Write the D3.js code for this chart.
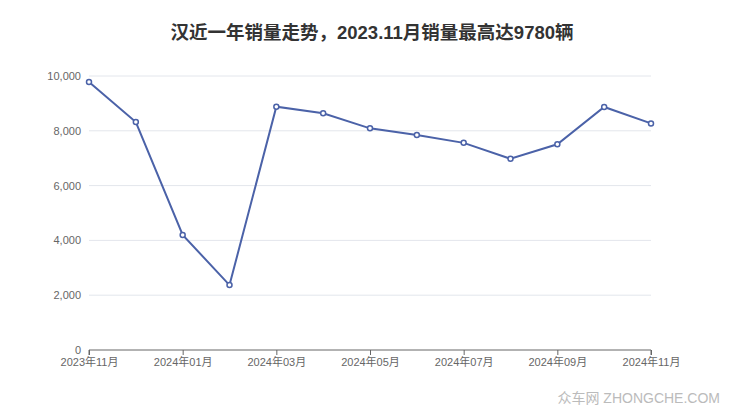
<!DOCTYPE html>
<html><head><meta charset="utf-8">
<script src="https://cdn.jsdelivr.net/npm/d3@7"></script>
<style>body{margin:0;background:#fff;}svg{display:block;font-family:"Liberation Sans","Noto Sans CJK SC",sans-serif;}</style>
</head><body>
<svg id="c" width="740" height="417"></svg>
<script>
const months = ["2023年11月","2023年12月","2024年01月","2024年02月","2024年03月","2024年04月","2024年05月","2024年06月","2024年07月","2024年08月","2024年09月","2024年10月","2024年11月"];
const sales = [9780, 8320, 4200, 2370, 8880, 8640, 8090, 7850, 7560, 6980, 7510, 8870, 8270];
const yTicks = [0, 2000, 4000, 6000, 8000, 10000];
const xTickLabels = ["2023年11月","2024年01月","2024年03月","2024年05月","2024年07月","2024年09月","2024年11月"];
const title = "汉近一年销量走势，2023.11月销量最高达9780辆";

const svg = d3.select("#c");
const m = {l:89, r:651, t:76, b:350};
const x = d3.scalePoint().domain(months).range([m.l, m.r]);
const y = d3.scaleLinear().domain([0, 10000]).range([m.b, m.t]);

svg.append("text").attr("x", 372).attr("y", 39).attr("text-anchor","middle")
  .attr("font-size", 18.5).attr("font-weight","bold").attr("fill","#333").text(title);

// grid
svg.append("g").selectAll("line").data(yTicks.filter(d=>d>0)).join("line")
  .attr("x1", m.l).attr("x2", m.r).attr("y1", d=>y(d)).attr("y2", d=>y(d))
  .attr("stroke","#e3e6ec").attr("stroke-width",1);

// y axis labels
const yAxis = d3.axisLeft(y).tickValues(yTicks).tickSize(0).tickPadding(8).tickFormat(d3.format(","));
const gy = svg.append("g").attr("transform",`translate(${m.l},0)`).call(yAxis);
gy.select(".domain").remove();
gy.selectAll("text").attr("font-size",11).attr("fill","#666").attr("font-family","Liberation Sans, sans-serif");

// x axis
const xAxis = d3.axisBottom(x).tickValues(xTickLabels).tickSize(5).tickPadding(3);
const gx = svg.append("g").attr("transform",`translate(0,${m.b})`).call(xAxis);
gx.select(".domain").attr("stroke","#666").attr("d", `M${m.l},5V0H${m.r}V5`);
gx.selectAll(".tick line").attr("stroke","#666");
gx.selectAll("text").attr("font-size",11).attr("fill","#666").attr("font-family","Liberation Sans, Noto Sans CJK SC, sans-serif");

// line
const line = d3.line().x((d,i)=>x(months[i])).y(d=>y(d));
svg.append("path").datum(sales).attr("d", line).attr("fill","none")
  .attr("stroke","#4b62a8").attr("stroke-width",2);
svg.append("g").selectAll("circle").data(sales).join("circle")
  .attr("cx",(d,i)=>x(months[i])).attr("cy",d=>y(d)).attr("r",2.5)
  .attr("fill","#fff").attr("stroke","#4b62a8").attr("stroke-width",1.5);

// watermark
svg.append("text").attr("x", 720).attr("y", 403).attr("text-anchor","end")
  .attr("font-size", 14).attr("fill","#bbb").text("众车网 ZHONGCHE.COM");
</script>
</body></html>
